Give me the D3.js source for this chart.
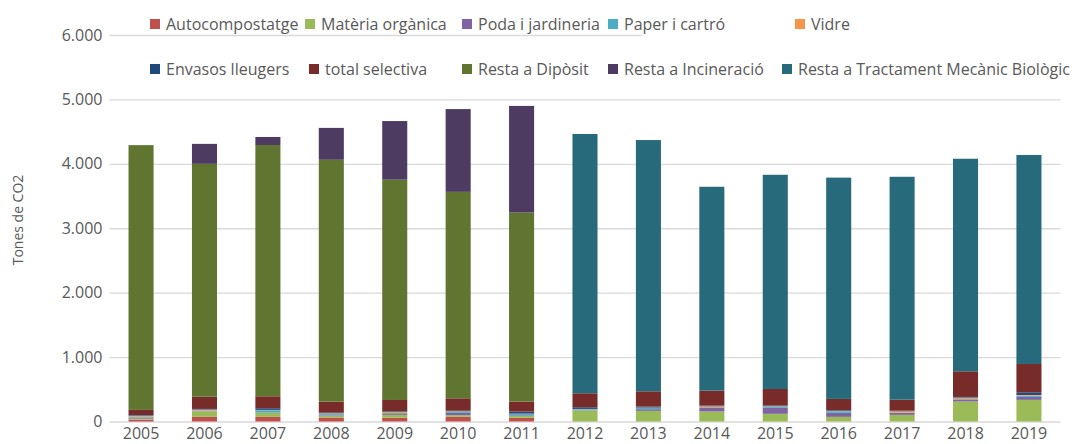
<!DOCTYPE html>
<html>
<head>
<meta charset="utf-8">
<script src="https://cdn.jsdelivr.net/npm/d3@7"></script>
<style>
    body { margin: 0; background: #fff; }
    text { font-family: "Open Sans", "Liberation Sans", Arial, sans-serif; fill: #595959; }
</style>
</head>
<body>
<svg id="chart" width="1078" height="444"></svg>
<script>
var years = ['2005', '2006', '2007', '2008', '2009', '2010', '2011', '2012', '2013', '2014', '2015', '2016', '2017', '2018', '2019'];

var seriesNames = ['Autocompostatge', 'Matèria orgànica', 'Poda i jardineria', 'Paper i cartró', 'Vidre',
    'Envasos lleugers', 'total selectiva', 'Resta a Dipòsit', 'Resta a Incineració', 'Resta a Tractament Mecànic Biològic'];

// tones de CO2 per any, llegit del gràfic
var autocompostatge = [30, 72, 72, 62, 57, 72, 57, 0, 0, 0, 0, 0, 0, 0, 0];
var materiaOrganica = [15, 83, 62, 31, 46, 26, 31, 170, 165, 155, 119, 72, 103, 310, 336];
var poda = [15, 5, 5, 10, 15, 36, 10, 5, 26, 62, 93, 62, 31, 31, 46];
var paper = [15, 10, 36, 15, 15, 15, 20, 15, 20, 5, 20, 26, 5, 10, 20];
var vidre = [15, 15, 5, 10, 15, 10, 5, 5, 5, 15, 5, 5, 20, 20, 10];
var envasos = [10, 10, 26, 15, 10, 15, 31, 26, 15, 10, 10, 10, 10, 10, 41];
var totalSelectiva = [80, 190, 186, 165, 176, 186, 155, 217, 238, 232, 258, 176, 170, 398, 440];
var restaDiposit = [4110, 3615, 3900, 3755, 3420, 3205, 2935, 0, 0, 0, 0, 0, 0, 0, 0];
var restaIncineracio = [0, 310, 125, 495, 910, 1285, 1655, 0, 0, 0, 0, 0, 0, 0, 0];
var restaTMB = [0, 0, 0, 0, 0, 0, 0, 4025, 3900, 3165, 3325, 3435, 3460, 3300, 3245];

var yTicks = [0, 1000, 2000, 3000, 4000, 5000, 6000];

var colors = ['#C0504D', '#9BBB59', '#8064A2', '#4BACC6', '#F79646',
    '#1F497D', '#772C2A', '#5F7530', '#4D3B62', '#276A7C'];

var allSeries = [autocompostatge, materiaOrganica, poda, paper, vidre, envasos, totalSelectiva, restaDiposit, restaIncineracio, restaTMB];

var rows = years.map(function (y, i) {
    var row = {year: y};
    seriesNames.forEach(function (name, k) {
        row[name] = allSeries[k][i];
    });
    return row;
});

var stacked = d3.stack().keys(seriesNames)(rows);

var svg = d3.select('#chart');
var margin = {left: 109.5, right: 17.5, top: 35, bottom: 22.5};
var width = 1078 - margin.left - margin.right,
    height = 444 - margin.top - margin.bottom;

var x = d3.scaleBand().domain(years).range([0, width]).paddingInner(0.605).paddingOuter(0.3);
var yScale = d3.scaleLinear().domain([0, 6000]).range([height, 0]);

var g = svg.append('g').attr('transform', 'translate(' + margin.left + ',' + margin.top + ')');

// gridlines
g.append('g')
    .attr('class', 'grid')
    .call(d3.axisLeft(yScale).tickValues(yTicks).tickSize(-width).tickFormat(''))
    .call(function (sel) {
        sel.select('.domain').remove();
        sel.selectAll('line').attr('stroke', '#D9D9D9').attr('stroke-width', 1.3);
    });

// y axis labels
var fmt = function (d) { return d3.format(',')(d).replace(/,/g, '.'); };
g.append('g')
    .call(d3.axisLeft(yScale).tickValues(yTicks).tickSize(0).tickPadding(7).tickFormat(fmt))
    .call(function (sel) {
        sel.select('.domain').remove();
        sel.selectAll('text').attr('font-size', '16px').style('fill', '#595959');
    });

// bars
g.selectAll('.layer')
    .data(stacked)
    .enter().append('g')
    .attr('class', 'layer')
    .attr('fill', function (d, i) { return colors[i]; })
    .selectAll('rect')
    .data(function (d) { return d; })
    .enter().append('rect')
    .attr('x', function (d) { return x(d.data.year); })
    .attr('y', function (d) { return yScale(d[1]); })
    .attr('width', x.bandwidth())
    .attr('height', function (d) { return yScale(d[0]) - yScale(d[1]); });

// x axis
g.append('g')
    .attr('transform', 'translate(0,' + height + ')')
    .call(d3.axisBottom(x).tickSize(0).tickPadding(6))
    .call(function (sel) {
        sel.select('.domain').remove();
        sel.selectAll('text').attr('font-size', '16px').style('fill', '#595959');
    });

// y title
svg.append('text')
    .attr('transform', 'translate(23,220) rotate(-90)')
    .attr('text-anchor', 'middle')
    .attr('font-size', '14px')
    .text('Tones de CO2');

// legend
svg.append('rect').attr('x', 642).attr('y', 8).attr('width', 436).attr('height', 80).attr('fill', '#fff');

var legendX = [150, 305, 462, 608, 795, 150, 309, 462, 608, 782];
var legendY = [24, 24, 24, 24, 24, 69, 69, 69, 69, 69];

var legend = svg.selectAll('.legend')
    .data(seriesNames)
    .enter().append('g')
    .attr('class', 'legend')
    .attr('transform', function (d, i) { return 'translate(' + legendX[i] + ',' + legendY[i] + ')'; });

legend.append('rect')
    .attr('x', 0).attr('y', -5)
    .attr('width', 10).attr('height', 10)
    .attr('fill', function (d, i) { return colors[i]; });

legend.append('text')
    .attr('x', 16).attr('y', 5.5)
    .attr('font-size', '16px')
    .text(function (d) { return d; });
</script>
</body>
</html>
